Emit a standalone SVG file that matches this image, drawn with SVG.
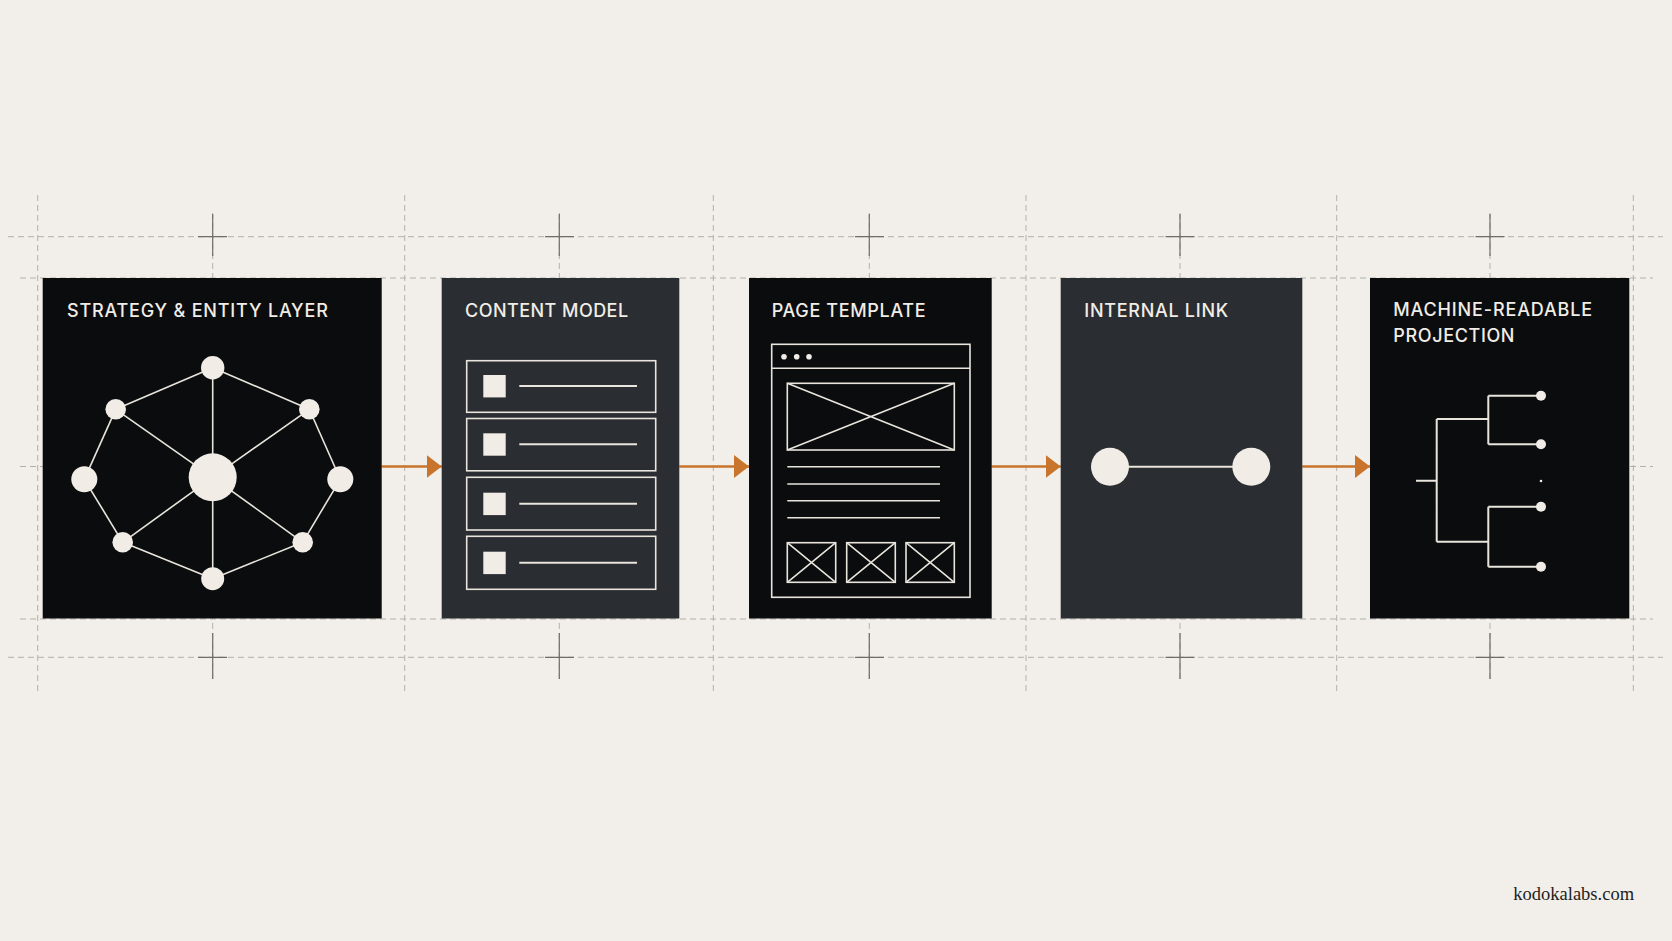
<svg xmlns="http://www.w3.org/2000/svg" width="1672" height="941" viewBox="0 0 1672 941">
<defs>
<style>
.grid{stroke:#b3b0aa;stroke-width:1;stroke-dasharray:6 4;fill:none}
.cross{stroke:#6f6d69;stroke-width:1.2;fill:none}
.black{fill:#0b0c0e}
.gray{fill:#2a2d31}
.title{font-family:Inter,"Liberation Sans",sans-serif;font-size:18px;font-weight:500;fill:#f1ede6;letter-spacing:1.2px}
.ln{stroke:#e9e5dd;stroke-width:1.6;fill:none}
.ln2{stroke:#e9e5dd;stroke-width:2;fill:none}
.dot{fill:#f1ede6}
.arrow{stroke:#c8742c;stroke-width:2.5;fill:none}
</style>
<marker id="ah" viewBox="0 0 15 23" refX="15" refY="11.5" markerWidth="15" markerHeight="23" markerUnits="userSpaceOnUse" orient="auto">
<path d="M0,0 L15,11.5 L0,23 Z" fill="#c8742c"/>
</marker>
</defs>
<rect width="1672" height="941" fill="#f2efea"/>

<g id="grid">
<line class="grid" x1="8" y1="236.7" x2="1663" y2="236.7"/>
<line class="grid" x1="20" y1="278" x2="1653" y2="278"/>
<line class="grid" x1="20" y1="466.5" x2="1653" y2="466.5"/>
<line class="grid" x1="20" y1="619" x2="1653" y2="619"/>
<line class="grid" x1="8" y1="657.3" x2="1663" y2="657.3"/>
<line class="grid" x1="37.7" y1="195" x2="37.7" y2="695"/>
<line class="grid" x1="404.7" y1="195" x2="404.7" y2="695"/>
<line class="grid" x1="713.3" y1="195" x2="713.3" y2="695"/>
<line class="grid" x1="1026" y1="195" x2="1026" y2="695"/>
<line class="grid" x1="1336.7" y1="195" x2="1336.7" y2="695"/>
<line class="grid" x1="1633.3" y1="195" x2="1633.3" y2="695"/>
<line class="grid" x1="212.7" y1="213" x2="212.7" y2="679"/>
<line class="grid" x1="559.3" y1="213" x2="559.3" y2="679"/>
<line class="grid" x1="869.3" y1="213" x2="869.3" y2="679"/>
<line class="grid" x1="1180" y1="213" x2="1180" y2="679"/>
<line class="grid" x1="1490" y1="213" x2="1490" y2="679"/>
<g class="cross">
<path d="M198,236.7 H227 M212.7,214 V256"/>
<path d="M545,236.7 H574 M559.3,214 V256"/>
<path d="M855,236.7 H884 M869.3,214 V256"/>
<path d="M1165.5,236.7 H1194.5 M1180,214 V256"/>
<path d="M1475.5,236.7 H1504.5 M1490,214 V256"/>
<path d="M198,657.3 H227 M212.7,633 V679"/>
<path d="M545,657.3 H574 M559.3,633 V679"/>
<path d="M855,657.3 H884 M869.3,633 V679"/>
<path d="M1165.5,657.3 H1194.5 M1180,633 V679"/>
<path d="M1475.5,657.3 H1504.5 M1490,633 V679"/>
</g>
</g>

<g id="connectors">
<line class="arrow" x1="381.7" y1="466.5" x2="441.7" y2="466.5" marker-end="url(#ah)"/>
<line class="arrow" x1="679.3" y1="466.5" x2="749" y2="466.5" marker-end="url(#ah)"/>
<line class="arrow" x1="991.7" y1="466.5" x2="1060.7" y2="466.5" marker-end="url(#ah)"/>
<line class="arrow" x1="1302.3" y1="466.5" x2="1370" y2="466.5" marker-end="url(#ah)"/>
</g>

<g id="node-strategy">
<rect class="black" x="42.7" y="278" width="339" height="340.5"/>
<text class="title" x="67" y="316.7" textLength="262" lengthAdjust="spacing">STRATEGY &amp; ENTITY LAYER</text>
<g class="ln">
<line x1="212.7" y1="367.7" x2="115.7" y2="409.3"/>
<line x1="212.7" y1="367.7" x2="309.3" y2="409.3"/>
<line x1="212.7" y1="367.7" x2="212.7" y2="578.7"/>
<line x1="115.7" y1="409.3" x2="212.7" y2="477.3"/>
<line x1="309.3" y1="409.3" x2="212.7" y2="477.3"/>
<line x1="115.7" y1="409.3" x2="84.3" y2="479.3"/>
<line x1="309.3" y1="409.3" x2="340.3" y2="479.3"/>
<line x1="84.3" y1="479.3" x2="122.7" y2="542.3"/>
<line x1="340.3" y1="479.3" x2="302.7" y2="542.3"/>
<line x1="122.7" y1="542.3" x2="212.7" y2="477.3"/>
<line x1="302.7" y1="542.3" x2="212.7" y2="477.3"/>
<line x1="122.7" y1="542.3" x2="212.7" y2="578.7"/>
<line x1="302.7" y1="542.3" x2="212.7" y2="578.7"/>
</g>
<g class="dot">
<circle cx="212.7" cy="477.3" r="24"/>
<circle cx="212.7" cy="367.7" r="11.7"/>
<circle cx="115.7" cy="409.3" r="10.3"/>
<circle cx="309.3" cy="409.3" r="10.3"/>
<circle cx="84.3" cy="479.3" r="13"/>
<circle cx="340.3" cy="479.3" r="13"/>
<circle cx="122.7" cy="542.3" r="10.3"/>
<circle cx="302.7" cy="542.3" r="10.3"/>
<circle cx="212.7" cy="578.7" r="11.5"/>
</g>
</g>

<g id="node-content-model">
<rect class="gray" x="441.7" y="278" width="237.6" height="340.5"/>
<text class="title" x="465" y="316.7" textLength="164.3" lengthAdjust="spacing">CONTENT MODEL</text>
<g class="ln">
<rect x="466.7" y="360.7" width="189" height="51.6"/>
<rect x="466.7" y="418.5" width="189" height="52.3"/>
<rect x="466.7" y="477.3" width="189" height="52.7"/>
<rect x="466.7" y="536.3" width="189" height="53"/>
</g>
<g class="ln2">
<line x1="519.3" y1="386" x2="637" y2="386"/>
<line x1="519.3" y1="444.3" x2="637" y2="444.3"/>
<line x1="519.3" y1="503.7" x2="637" y2="503.7"/>
<line x1="519.3" y1="562.7" x2="637" y2="562.7"/>
</g>
<g class="dot">
<rect x="483.3" y="375" width="22.4" height="22.4"/>
<rect x="483.3" y="433.3" width="22.4" height="22.4"/>
<rect x="483.3" y="492.7" width="22.4" height="22.4"/>
<rect x="483.3" y="551.7" width="22.4" height="22.4"/>
</g>
</g>

<g id="node-page-template">
<rect class="black" x="749" y="278" width="242.7" height="340.5"/>
<text class="title" x="771.7" y="316.7" textLength="155" lengthAdjust="spacing">PAGE TEMPLATE</text>
<g class="ln">
<rect x="771.7" y="344.3" width="198.3" height="253"/>
<line x1="771.7" y1="368.3" x2="970" y2="368.3"/>
<rect x="787.3" y="383.3" width="167" height="66.7"/>
<path d="M787.3,383.3 L954.3,450 M954.3,383.3 L787.3,450"/>
<line x1="787.3" y1="466.7" x2="940" y2="466.7"/>
<line x1="787.3" y1="484" x2="940" y2="484"/>
<line x1="787.3" y1="500.7" x2="940" y2="500.7"/>
<line x1="787.3" y1="517.7" x2="940" y2="517.7"/>
<rect x="787.3" y="542.7" width="48.4" height="39.6"/>
<path d="M787.3,542.7 L835.7,582.3 M835.7,542.7 L787.3,582.3"/>
<rect x="846.7" y="542.7" width="48.6" height="39.6"/>
<path d="M846.7,542.7 L895.3,582.3 M895.3,542.7 L846.7,582.3"/>
<rect x="906" y="542.7" width="48.3" height="39.6"/>
<path d="M906,542.7 L954.3,582.3 M954.3,542.7 L906,582.3"/>
</g>
<g class="dot">
<circle cx="784" cy="356.7" r="2.8"/>
<circle cx="796.7" cy="356.7" r="2.8"/>
<circle cx="809" cy="356.7" r="2.8"/>
</g>
</g>

<g id="node-internal-link">
<rect class="gray" x="1060.7" y="278" width="241.6" height="340.5"/>
<text class="title" x="1084.3" y="316.7" textLength="145" lengthAdjust="spacing">INTERNAL LINK</text>
<line class="ln2" x1="1110" y1="466.7" x2="1251.3" y2="466.7"/>
<g class="dot">
<circle cx="1110" cy="466.7" r="19"/>
<circle cx="1251.3" cy="466.7" r="19"/>
</g>
</g>

<g id="node-machine-readable">
<rect class="black" x="1370" y="278" width="259.3" height="340.5"/>
<text class="title" x="1393.3" y="316.3" textLength="200" lengthAdjust="spacing">MACHINE-READABLE</text>
<text class="title" x="1393.3" y="341.7" textLength="122.4" lengthAdjust="spacing">PROJECTION</text>
<g class="ln2">
<path d="M1416,480.7 H1436.7 M1436.7,419 V541.7 M1436.7,419 H1488.3 M1488.3,395.7 V444.3 M1488.3,395.7 H1541 M1488.3,444.3 H1541 M1436.7,541.7 H1488.3 M1488.3,506.7 V566.7 M1488.3,506.7 H1541 M1488.3,566.7 H1541"/>
</g>
<g class="dot">
<circle cx="1541" cy="395.7" r="5"/>
<circle cx="1541" cy="444.3" r="5"/>
<circle cx="1541" cy="506.7" r="5"/>
<circle cx="1541" cy="566.7" r="5"/>
<circle cx="1541" cy="481" r="1.3"/>
</g>
</g>

<text x="1513.3" y="900" font-family="'Liberation Serif',serif" font-size="18.5" fill="#1e1e1e">kodokalabs.com</text>
</svg>
